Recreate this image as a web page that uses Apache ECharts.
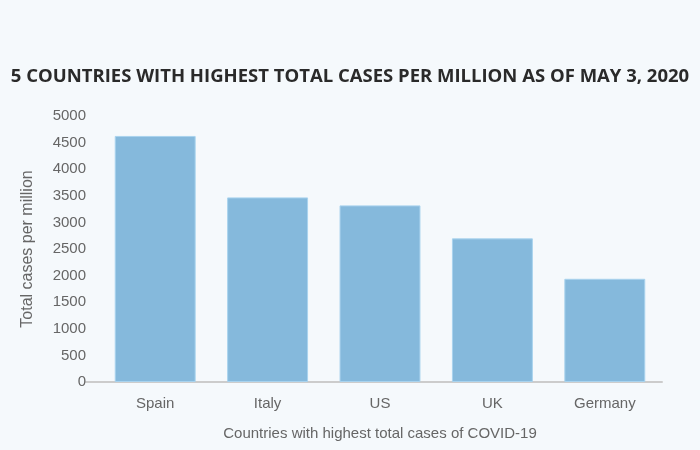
<!DOCTYPE html>
<html><head><meta charset="utf-8">
<script src="https://cdn.jsdelivr.net/npm/echarts@6/dist/echarts.min.js"></script>
<style>html,body{margin:0;padding:0;background:#f5f9fc;}#c{width:700px;height:450px;}</style>
</head><body><div id="c"></div>
<script>
const countries = ["Spain", "Italy", "US", "UK", "Germany"];
const casesPerMillion = [4625, 3470, 3320, 2700, 1940];
const yTicks = {min: 0, max: 5000, interval: 500};
const titleText = "5 COUNTRIES WITH HIGHEST TOTAL CASES PER MILLION AS OF MAY 3, 2020";
const xName = "Countries with highest total cases of COVID-19";
const yName = "Total cases per million";

const chart = echarts.init(document.getElementById('c'));
chart.setOption({
  backgroundColor: '#f5f9fc',
  animation: false,
  title: {
    text: titleText, left: 'center', top: 62,
    textStyle: {fontFamily: 'Open Sans', fontWeight: 'bold', fontSize: 18.5, color: '#2a2a2a'}
  },
  grid: [
    {left: 99, right: 39, top: 116, bottom: 68, containLabel: false},
    {left: 86, right: 38, top: 116, bottom: 68, containLabel: false}
  ],
  xAxis: [{
    type: 'category', data: countries, gridIndex: 0,
    name: xName, nameLocation: 'middle', nameGap: 44,
    nameTextStyle: {fontFamily: 'Liberation Sans', fontSize: 15, color: '#666'},
    axisLine: {show: false},
    axisTick: {show: false},
    axisLabel: {fontFamily: 'Liberation Sans', fontSize: 15, color: '#666', margin: 14}
  }, {
    type: 'value', gridIndex: 1, min: 0, max: 1,
    axisLine: {show: true, lineStyle: {color: '#ccc', width: 2}},
    axisTick: {show: false}, axisLabel: {show: false}, splitLine: {show: false}
  }],
  yAxis: [{
    type: 'value', gridIndex: 0, min: yTicks.min, max: yTicks.max, interval: yTicks.interval,
    name: yName, nameLocation: 'middle', nameGap: 63, nameRotate: 90,
    nameTextStyle: {fontFamily: 'Liberation Sans', fontSize: 16, color: '#666'},
    axisLine: {show: false}, axisTick: {show: false},
    splitLine: {show: false},
    axisLabel: {fontFamily: 'Liberation Sans', fontSize: 15, color: '#666', margin: 13,
      formatter: v => String(v)}
  }, {
    type: 'value', gridIndex: 1, min: 0, max: 1, show: false
  }],
  series: [{
    type: 'bar', data: casesPerMillion, barCategoryGap: '28%', z: 3,
    itemStyle: {color: '#85b9dc', borderColor: '#a9d3ee', borderWidth: 1}
  }]
});
</script></body></html>
